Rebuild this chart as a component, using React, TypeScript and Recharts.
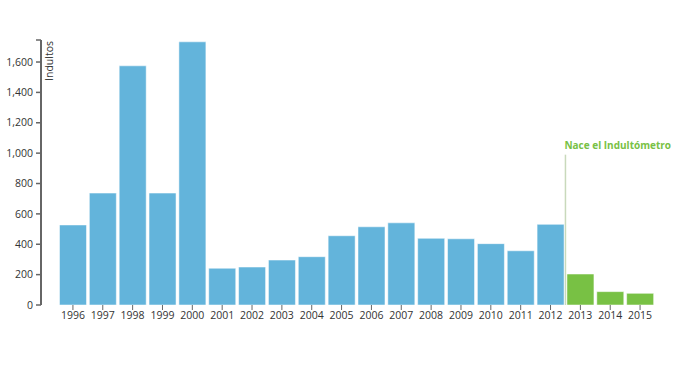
import React from 'react';
import { BarChart, Bar, XAxis, YAxis, Cell, ReferenceArea } from 'recharts';

const years = ['1996', '1997', '1998', '1999', '2000', '2001', '2002', '2003', '2004', '2005',
  '2006', '2007', '2008', '2009', '2010', '2011', '2012', '2013', '2014', '2015'];
const indultos = [527, 737, 1575, 737, 1733, 242, 250, 296, 318, 456,
  515, 541, 439, 436, 404, 357, 531, 204, 88, 77];
const yTicks = [0, 200, 400, 600, 800, 1000, 1200, 1400, 1600];
const yTop = 1745;
const markerYear = '2013';
const markerTop = 990;
const markerText = 'Nace el Indultómetro';
const yLabel = 'Indultos';

const BLUE = '#63b4db';
const GREEN = '#78c144';
const FONT = '"Open Sans", sans-serif';

const data = years.map((year, i) => ({ year, value: indultos[i] }));

const fmt = (v: number) => (v > 1600 ? '' : v.toLocaleString('en-US'));

const Marker = (props: any) => {
  const { x, y, height } = props;
  return (
    <g>
      <line x1={x} y1={y} x2={x} y2={y + height} stroke="#c9d9bb" strokeWidth={1.5} />
      <text x={x - 1} y={y - 6} fill={GREEN} fontSize={10} fontWeight="bold" fontFamily={FONT}>
        {markerText}
      </text>
    </g>
  );
};

const AxisLabel = (props: any) => {
  const { viewBox } = props;
  const x = viewBox.x + viewBox.width + 12;
  const y = viewBox.y + 1;
  return (
    <text transform="rotate(-90)" x={-y} y={x} textAnchor="end" fill="#333" fontSize={10.5} fontFamily={FONT}>
      {yLabel}
    </text>
  );
};

export default function App() {
  const startIdx = years.indexOf(markerYear);
  return (
    <div style={{ position: 'absolute', left: 0, top: 0 }}>
      <BarChart width={680} height={365} data={data} margin={{ top: 40, right: 25, bottom: 30, left: 0 }}
        barCategoryGap="5%">
        <XAxis dataKey="year" axisLine={false} tickLine={{ stroke: '#666' }} tickSize={5} tickMargin={2}
          padding={{ left: 17, right: 0 }} interval={0} height={30}
          tick={{ fill: '#333', fontSize: 10.5, fontFamily: FONT }} />
        <YAxis width={41} domain={[0, yTop]} ticks={[...yTicks, yTop]} tickFormatter={fmt}
          axisLine={{ stroke: '#666', strokeWidth: 2 }} tickLine={{ stroke: '#666', strokeWidth: 1.5 }}
          tickSize={5} tickMargin={3} tick={{ fill: '#333', fontSize: 10.5, fontFamily: FONT }}
          label={<AxisLabel />} />
        <Bar dataKey="value" isAnimationActive={false} stroke="#ffffff" strokeOpacity={0.5} strokeWidth={1}>
          {data.map((d, i) => (
            <Cell key={d.year} fill={i >= startIdx ? GREEN : BLUE} />
          ))}
        </Bar>
        <ReferenceArea x1={markerYear} x2={markerYear} y1={0} y2={markerTop} shape={<Marker />} />
      </BarChart>
    </div>
  );
}
